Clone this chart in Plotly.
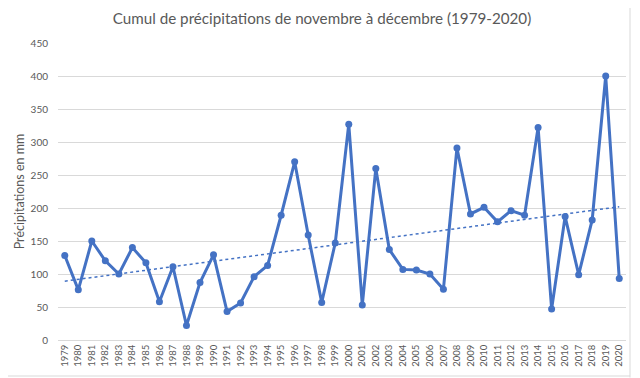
import numpy as np
import plotly.graph_objects as go

years = [str(y) for y in range(1979, 2021)]
precip = [128, 76, 150, 120, 100, 140, 117, 58, 111, 22, 87, 129, 43, 56,
          96, 113, 189, 270, 159, 57, 147, 327, 53, 260, 137, 107, 106, 100, 77,
          291, 191, 201, 179, 196, 189, 322, 47, 187, 99, 182, 400, 93]
y_ticks = [0, 50, 100, 150, 200, 250, 300, 350, 400, 450]

idx = np.arange(len(precip))
slope, intercept = np.polyfit(idx, precip, 1)
trend = slope * idx + intercept

color = "#4472C4"
fig = go.Figure()
fig.add_trace(go.Scatter(x=years, y=precip, mode="lines+markers",
                         line=dict(color=color, width=3),
                         marker=dict(color=color, size=7),
                         showlegend=False, hoverinfo="x+y"))
fig.add_trace(go.Scatter(x=years, y=trend, mode="lines",
                         line=dict(color=color, width=1.5, dash="dot"),
                         showlegend=False, hoverinfo="skip"))

# the page body adds an 8px offset; figure is sized to fill the rest
W, H = 632, 370
L, R, T, B = 50, 14, 35, 38
pw, ph = W - L - R, H - T - B
fig.update_layout(
    width=W, height=H,
    margin=dict(l=L, r=R, t=T, b=B, autoexpand=False),
    paper_bgcolor="white", plot_bgcolor="white",
    font=dict(family="Lato, Open Sans, sans-serif", color="#595959"),
    title=dict(text="Cumul de précipitations de novembre à décembre (1979-2020)",
               x=(322 - 8 - L) / pw, xref="paper", xanchor="center",
               y=1 - 10.5 / H, yanchor="middle",
               font=dict(size=15.2, color="#595959")),
    xaxis=dict(type="category", tickangle=-90, tickfont=dict(size=9.5),
               showgrid=False, showline=True, linecolor="#D9D9D9",
               ticks="", automargin=False, range=[-0.5, len(years) - 0.5]),
    yaxis=dict(range=[0, 450], tickvals=y_ticks, tickfont=dict(size=10),
               showgrid=True, gridcolor="#D9D9D9", gridwidth=1,
               zeroline=False, ticks="", ticklabelstandoff=9, automargin=False,
               title=dict(text="Précipitations en mm", font=dict(size=12.5),
                          standoff=3)),
    shapes=[
        dict(type="line", xref="paper", yref="paper",
             x0=(622 - L) / pw, x1=(622 - L) / pw,
             y0=-(B - 0.5) / ph, y1=(H - B) / ph,
             line=dict(color="#D9D9D9", width=1)),
        dict(type="line", xref="paper", yref="paper",
             x0=-L / pw, x1=(622 - L) / pw,
             y0=-(368 - (H - B)) / ph, y1=-(368 - (H - B)) / ph,
             line=dict(color="#D9D9D9", width=1)),
    ],
)
fig.write_html("out.html")
